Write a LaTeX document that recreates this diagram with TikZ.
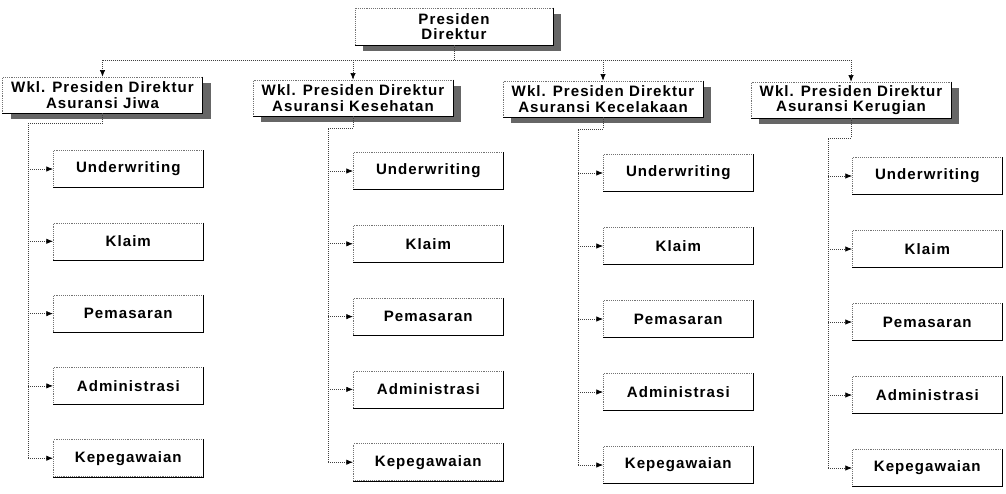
\documentclass[tikz,border=0pt]{standalone}
\usepackage{fontspec}
\newfontfamily\orgfont{Liberation Sans}[LetterSpace=7]
\usetikzlibrary{arrows.meta,shadows}
\begin{document}
\begin{tikzpicture}[x=0.75pt,y=-0.75pt,
  lbl/.style={font=\orgfont\bfseries\fontsize{11.3}{11.6}\selectfont, align=center, inner sep=0pt},
  subbox/.style={lbl, draw=black!55, densely dotted, line width=0.4pt, minimum width=112.5pt, minimum height=27.75pt, anchor=west, fill=white},
  vpbox/.style={lbl, draw=black!55, densely dotted, line width=0.4pt, fill=white, minimum width=150pt, minimum height=27pt,
    drop shadow={shadow xshift=6pt, shadow yshift=-4.5pt, fill=black!60, opacity=1}},
  edge/.style={black, line width=0.6pt},
  conn/.style={black!75, densely dotted, line width=0.5pt},
  tip/.style={conn, -{Latex[length=5pt,width=4pt,fill=black,color=black]}}
]
\useasboundingbox (0,0) rectangle (1006,493);

% top box
\node[vpbox, minimum width=148.5pt, minimum height=27.75pt] (top) at (454,26.5) {Presiden\\Direktur};
\draw[edge] (top.north east) -- (top.south east) -- (top.south west);

% vice presidents
\node[vpbox] (vp1) at (102.5,95) {Wkl. Presiden Direktur\\Asuransi Jiwa};
\node[vpbox] (vp2) at (353,98) {Wkl. Presiden Direktur\\Asuransi Kesehatan};
\node[vpbox] (vp3) at (603,99) {Wkl. Presiden Direktur\\Asuransi Kecelakaan};
\node[vpbox] (vp4) at (851,100) {Wkl. Presiden Direktur\\Asuransi Kerugian};
\foreach \c in {1,2,3,4}{
  \draw[edge] (vp\c.north east) -- (vp\c.south east) -- (vp\c.south west);
}

% bus from top
\coordinate (bus) at (454,60);
\draw[conn] (top.south) -- (bus);
\draw[conn] (vp1.north |- bus) -- (vp4.north |- bus);
\foreach \c in {1,2,3,4}{
  \draw[tip] (vp\c.north |- bus) -- (vp\c.north);
}

% departments
\foreach \c/\x/\yo/\dy/\vx/\ty in {1/53/169/72.3/28/123, 2/353/171/72.8/328/128, 3/603/173/73/578/129, 4/852/176/73/828/138}{
  \foreach \r/\t in {1/Underwriting, 2/Klaim, 3/Pemasaran, 4/Administrasi, 5/Kepegawaian}{
    \node[subbox] (c\c-\r) at (\x,{\yo+(\r-1)*\dy}) {\t};
    \draw[edge] (c\c-\r.north east) -- (c\c-\r.south east) -- (c\c-\r.south west);
  }
  \coordinate (v\c) at (\vx,\ty);
  \draw[conn] (vp\c.south) |- (v\c) -- (v\c |- c\c-5.west);
  \foreach \r in {1,...,5}{
    \draw[tip] (v\c |- c\c-\r.west) -- (c\c-\r.west);
  }
}
\end{tikzpicture}
\end{document}
